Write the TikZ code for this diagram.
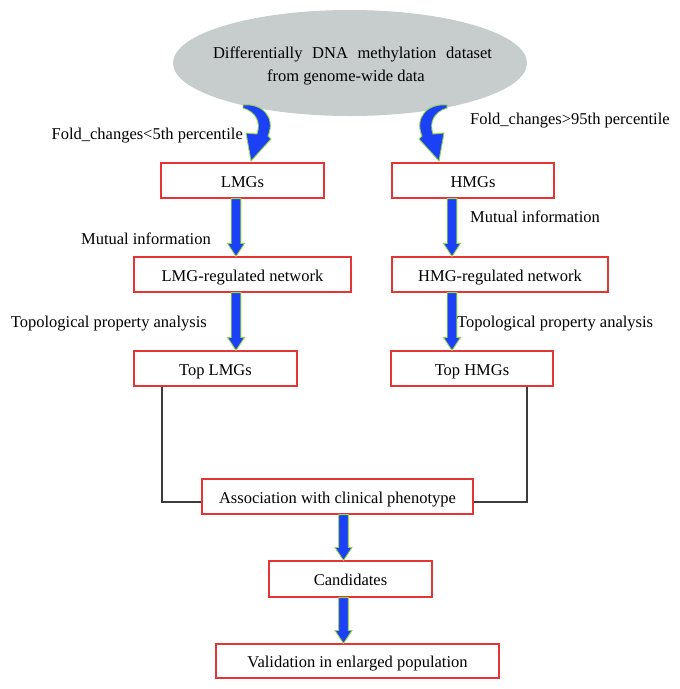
\documentclass[tikz,border=0pt]{standalone}
\usepackage{fontspec}
\setmainfont{Liberation Serif}
\usetikzlibrary{calc,shapes.geometric}
\definecolor{ellgray}{RGB}{199,204,205}
\definecolor{boxred}{RGB}{228,52,52}
\definecolor{arrowblue}{RGB}{28,64,246}
\definecolor{arrowgreen}{RGB}{150,215,70}
\definecolor{linegray}{RGB}{60,60,60}
\tikzset{
  every node/.style={font=\fontsize{16.5}{19}\selectfont},
  stepbox/.style={draw=boxred, line width=1.1pt, fill=white, inner sep=0pt,
    minimum height=35pt, text height=13.5pt, text depth=0pt},
  srcell/.style={ellipse, fill=ellgray, inner sep=0pt, minimum width=354pt, minimum height=106pt},
  lbl/.style={inner sep=0pt},
  barrow/.style={fill=arrowblue, draw=arrowgreen, line width=0.9pt, line join=miter},
  conn/.style={draw=linegray, line width=1.2pt}
}
\newcommand\blockdown[2]{%
  \path[barrow] let \p1=(#1), \p2=(#2) in
    (\x1-4.8pt,\y1) -- (\x1-4.8pt,\y2+13pt) -- (\x1-8.5pt,\y2+13pt) -- (\x1,\y2)
    -- (\x1+8.5pt,\y2+13pt) -- (\x1+4.8pt,\y2+13pt) -- (\x1+4.8pt,\y1) -- cycle;}
\begin{document}
\begin{tikzpicture}[x=1pt,y=-1pt]
\useasboundingbox (0,0) rectangle (680,689);
% source ellipse
\node[srcell] (src) at (350,63) {};
\node[lbl, anchor=base] (srcA) at (352.5,58) {\makebox[279pt][s]{Differentially DNA methylation dataset}};
\node[lbl, anchor=base] (srcB) at (346,81) {from genome-wide data};
% boxes
\node[stepbox, minimum width=163pt] (lmg)  at (242.5,180.5) {LMGs};
\node[stepbox, minimum width=162pt] (hmg)  at (473,180.5) {HMGs};
\node[stepbox, minimum width=217pt] (lnet) at (242.5,274.5) {LMG-regulated network};
\node[stepbox, minimum width=216pt] (hnet) at (500,274.5) {HMG-regulated network};
\node[stepbox, minimum width=163pt] (tlmg) at (215.5,368.5) {Top LMGs};
\node[stepbox, minimum width=162pt] (thmg) at (472,368.5) {Top HMGs};
\node[stepbox, minimum width=271pt] (assoc) at (337.5,496.5) {Association with clinical phenotype};
\node[stepbox, minimum width=163pt, minimum height=36pt] (cand) at (350.5,579) {Candidates};
\node[stepbox, minimum width=283pt, minimum height=34pt] (valid) at (357.5,661) {Validation in enlarged population};
% labels
\node[lbl, anchor=base east] (fl) at (243,139) {Fold\_changes<5th percentile};
\node[lbl, anchor=base west] (fr) at (470,124) {Fold\_changes>95th percentile};
\node[lbl, anchor=base east] (ml) at (211,244) {Mutual information};
\node[lbl, anchor=base west] (mr) at (470,222) {Mutual information};
\node[lbl, anchor=base east] (tl) at (207,327) {Topological property analysis};
\node[lbl, anchor=base west] (tr) at (457,327) {Topological property analysis};
% arrow axes
\coordinate (axL) at (236,0);
\coordinate (axR) at (452,0);
\coordinate (axB) at (343.5,0);
\coordinate (lx) at (162,0);
\coordinate (rx) at (527,0);
\coordinate (hy) at (0,502);
% curved arrows from the ellipse
\path[barrow] (243,105) .. controls (262,103) and (276,117) .. (268,136)
  -- (271,139) -- (251,161) -- (246,133) -- (257,134)
  .. controls (261,122) and (256,112) .. (243,108) -- cycle;
\path[barrow] (447,105) .. controls (428,103) and (414,117) .. (422,136)
  -- (419,139) -- (439,161) -- (444,133) -- (433,134)
  .. controls (429,122) and (434,112) .. (447,108) -- cycle;
% straight block arrows
\blockdown{lmg.south -| axL}{lnet.north -| axL}
\blockdown{lnet.south -| axL}{tlmg.north -| axL}
\blockdown{hmg.south -| axR}{hnet.north -| axR}
\blockdown{hnet.south -| axR}{thmg.north -| axR}
\blockdown{assoc.south -| axB}{cand.north -| axB}
\blockdown{cand.south -| axB}{valid.north -| axB}
% connectors to association box
\draw[conn] (tlmg.south -| lx) |- (assoc.west |- hy);
\draw[conn] (thmg.south -| rx) |- (assoc.east |- hy);
\end{tikzpicture}
\end{document}
